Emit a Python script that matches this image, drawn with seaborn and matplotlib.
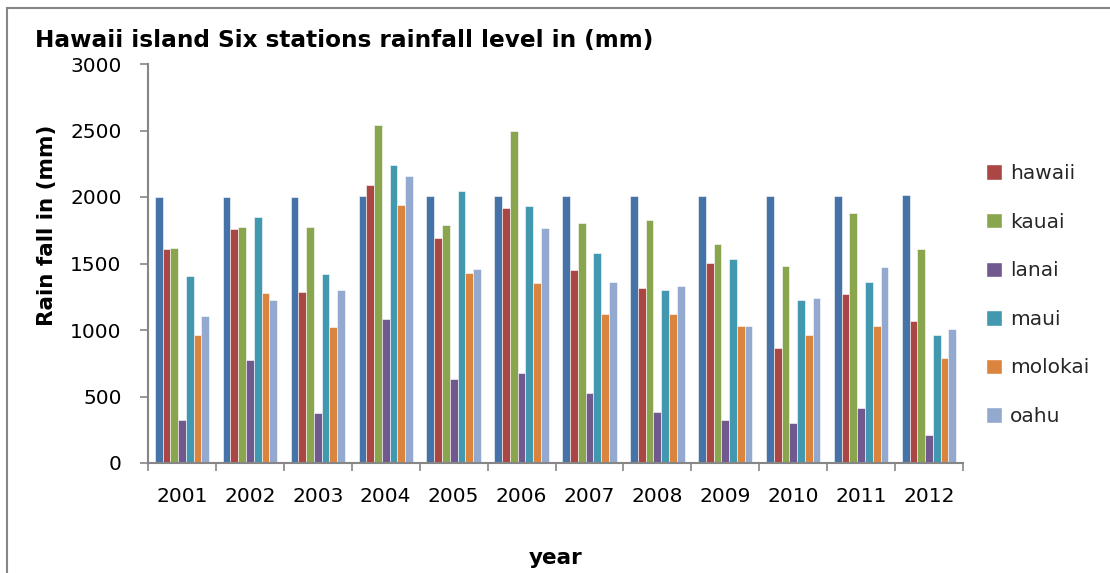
import matplotlib
matplotlib.use("Agg")
import matplotlib.pyplot as plt
from matplotlib.patches import Rectangle
import seaborn as sns
import pandas as pd

# Annual rainfall (mm) per station, 2001-2012
years = [2001, 2002, 2003, 2004, 2005, 2006, 2007, 2008, 2009, 2010, 2011, 2012]
year_series = years  # the year column was plotted as its own bar series
hawaii = [1608, 1758, 1287, 2093, 1690, 1920, 1452, 1317, 1507, 861, 1272, 1064]
kauai = [1617, 1778, 1778, 2539, 1788, 2497, 1803, 1826, 1648, 1480, 1880, 1610]
lanai = [325, 774, 376, 1084, 631, 676, 523, 383, 323, 298, 413, 210]
maui = [1405, 1853, 1420, 2239, 2044, 1931, 1580, 1304, 1537, 1227, 1362, 964]
molokai = [964, 1280, 1022, 1941, 1432, 1352, 1119, 1117, 1029, 964, 1029, 789]
oahu = [1109, 1222, 1304, 2161, 1457, 1768, 1362, 1334, 1032, 1242, 1475, 1007]

series_names = ["year", "hawaii", "kauai", "lanai", "maui", "molokai", "oahu"]
series_values = [year_series, hawaii, kauai, lanai, maui, molokai, oahu]
colors = ["#4572A7", "#AA4643", "#89A54E", "#71588F", "#4198AF", "#DB843D", "#93A9CF"]

rows = []
for name, vals in zip(series_names, series_values):
    for y, v in zip(years, vals):
        rows.append({"year": str(y), "station": name, "rain": v})
df = pd.DataFrame(rows)

sns.set_theme(style="white")
plt.rcParams["font.family"] = ["DejaVu Sans"]

W, H = 1110, 573
L, R, T, B = 148, 963, 64, 463
fig = plt.figure(figsize=(W / 100, H / 100), dpi=100)
ax = fig.add_axes([L / W, 1 - B / H, (R - L) / W, (B - T) / H])

sns.barplot(data=df, x="year", y="rain", hue="station", hue_order=series_names,
            palette=colors, width=0.8, ax=ax, saturation=1, legend=False,
            edgecolor="white", linewidth=0.4)

ax.set_xlim(-0.5, len(years) - 0.5)
ax.set_ylim(0, 3000)
ax.set_yticks(range(0, 3001, 500))

grey = "#868686"
for s in ["top", "right"]:
    ax.spines[s].set_visible(False)
for s in ["left", "bottom"]:
    ax.spines[s].set_color(grey)
    ax.spines[s].set_linewidth(1.5)

# category separators as minor ticks on the x axis
ax.set_xticks([i - 0.5 for i in range(len(years) + 1)], minor=True)
ax.tick_params(axis="x", which="minor", length=6, width=1.2, color=grey, direction="out", bottom=True)
ax.tick_params(axis="x", which="major", length=0, pad=17, labelsize=14.5, labelcolor="black")
ax.tick_params(axis="y", which="major", length=6, width=1.2, color=grey, direction="out",
               left=True, pad=13, labelsize=14.5, labelcolor="black")

ax.set_xlabel("year", fontsize=15.5, fontweight="bold", color="black")
ax.xaxis.set_label_coords(0.5, -(558 - B) / (B - T))
ax.xaxis.label.set_va("center")
ax.set_ylabel("Rain fall in (mm)", fontsize=15.5, fontweight="bold", color="black")
ax.yaxis.set_label_coords((47 - L) / (R - L), (B - 225) / (B - T))
ax.yaxis.label.set_va("center")

fig.text(35 / W, 1 - 40 / H, "Hawaii island Six stations rainfall level in (mm)",
         fontsize=16.7, fontweight="bold", ha="left", va="center", color="black")

# legend for the station series only
handles = [Rectangle((0, 0), 1, 1, facecolor=c) for c in colors[1:]]
fig.legend(handles, series_names[1:], loc="upper left", bbox_to_anchor=(986 / W, 1 - 164 / H),
           frameon=False, fontsize=14.5, handlelength=0.8, handleheight=0.8,
           handletextpad=0.4, labelspacing=1.47, borderaxespad=0, borderpad=0)

# outer chart frame
fig.patches.append(Rectangle((7 / W, -0.05), 1.2, 1 - 8 / H + 0.05, transform=fig.transFigure,
                             fill=False, edgecolor=grey, linewidth=1.5))

fig.savefig("out.png", dpi=100)
